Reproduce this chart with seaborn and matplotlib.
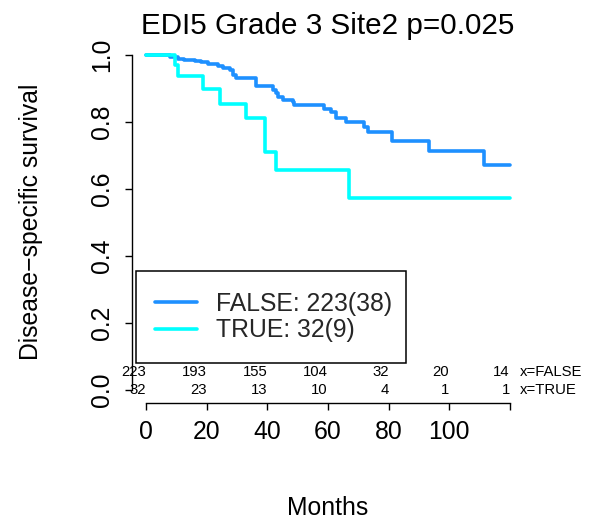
import matplotlib
matplotlib.use("Agg")
import matplotlib.pyplot as plt
from matplotlib.patches import Rectangle
import seaborn as sns
import pandas as pd

# ---- data ----
false_times = [0, 7.7, 10.4, 12.6, 16.0, 18.1, 20.3, 23.6, 25.3, 27.5, 28.6, 29.7,
               36.3, 42.0, 42.9, 43.5, 45.1, 48.4, 48.9, 58.8, 61.0, 62.5, 66.0,
               72.0, 73.1, 81.2, 93.5, 111.4, 120.0]
false_surv = [1.0, 0.993, 0.988, 0.985, 0.982, 0.978, 0.973, 0.968, 0.960, 0.955, 0.940, 0.930,
              0.908, 0.895, 0.885, 0.875, 0.865, 0.860, 0.850, 0.840, 0.830, 0.811, 0.800,
              0.784, 0.771, 0.744, 0.713, 0.671, 0.671]
true_times = [0, 9.5, 10.5, 18.7, 24.2, 33.0, 39.3, 42.9, 66.8, 120.0]
true_surv = [1.0, 0.969, 0.9375, 0.897, 0.854, 0.811, 0.710, 0.655, 0.573, 0.573]

group_labels = ["FALSE: 223(38)", "TRUE: 32(9)"]
group_colors = ["#1E90FF", "#00FFFF"]
risk_times = [0, 20, 40, 60, 80, 100, 120]
risk_false = [223, 193, 155, 104, 32, 20, 14]
risk_true = [32, 23, 13, 10, 4, 1, 1]
risk_row_names = ["x=FALSE", "x=TRUE"]
x_ticks = [0, 20, 40, 60, 80, 100, 120]
x_ticklabels = ["0", "20", "40", "60", "80", "100", ""]
y_ticks = [0.0, 0.2, 0.4, 0.6, 0.8, 1.0]
y_ticklabels = ["0.0", "0.2", "0.4", "0.6", "0.8", "1.0"]
title = "EDI5 Grade 3 Site2 p=0.025"
xlabel = "Months"
ylabel = "Disease\u2212specific survival"

df = pd.concat([
    pd.DataFrame({"time": false_times, "surv": false_surv, "group": group_labels[0]}),
    pd.DataFrame({"time": true_times, "surv": true_surv, "group": group_labels[1]}),
], ignore_index=True)

sns.set_theme(style="ticks")
plt.rcParams["font.family"] = ["Liberation Sans", "DejaVu Sans"]
BASE = 17.8

fig = plt.figure(figsize=(5.91, 5.25), dpi=100)
W, H = 591, 525
L, R, B, T = 131.7, 524.3, 403.0, 41.6
ax = fig.add_axes([L / W, 1 - B / H, (R - L) / W, (B - T) / H])

sns.lineplot(data=df, x="time", y="surv", hue="group", hue_order=group_labels,
             palette=group_colors, drawstyle="steps-post", estimator=None, sort=False,
             lw=2.6, ax=ax, legend=True)

ax.set_xlim(-4.8, 124.8)
ax.set_ylim(-0.04, 1.04)
sns.despine(ax=ax)
ax.spines["left"].set_bounds(0, 1)
ax.spines["bottom"].set_bounds(0, 120)
for s in ("left", "bottom"):
    ax.spines[s].set_linewidth(1.0)
    ax.spines[s].set_color("black")

ax.set_xticks(x_ticks)
ax.set_xticklabels(x_ticklabels)
ax.set_yticks(y_ticks)
ax.set_yticklabels(y_ticklabels, rotation=90, va="center")
ax.tick_params(axis="both", direction="out", length=5, width=1.0, color="black",
               labelsize=BASE, labelcolor="black")
ax.tick_params(axis="x", pad=7)
ax.tick_params(axis="y", pad=8)

ax.set_xlabel(xlabel, fontsize=BASE, color="black")
ax.xaxis.set_label_coords(0.5, -0.256)
ax.set_ylabel(ylabel, fontsize=BASE, color="black")
ax.yaxis.set_label_coords(-0.225, 0.5)

fig.text(328 / W, 1 - 34.3 / H, title, ha="center", va="baseline", fontsize=BASE * 1.2,
         color="black")

# legend
handles, labels = ax.get_legend_handles_labels()
ax.legend(handles, labels, loc="center left", bbox_to_anchor=(0.0593, 0.238),
          frameon=False, fontsize=BASE, handlelength=1.7, handletextpad=0.78,
          labelspacing=0.12, borderpad=0, borderaxespad=0)
for lh in ax.get_legend().get_lines():
    lh.set_linewidth(2.6)
ax.add_patch(Rectangle((0.011, 0.110), 0.688, 0.255, transform=ax.transAxes,
                       fill=False, edgecolor="black", lw=1.1, clip_on=False, zorder=5))

# number at risk
for t, nf, nt in zip(risk_times, risk_false, risk_true):
    ax.text(t, 0.0527, str(nf), ha="right", va="center", fontsize=BASE * 0.6, color="black")
    ax.text(t, -0.002, str(nt), ha="right", va="center", fontsize=BASE * 0.6, color="black")
ax.text(123.2, 0.0527, risk_row_names[0], ha="left", va="center", fontsize=BASE * 0.6,
        color="black", clip_on=False)
ax.text(123.2, -0.002, risk_row_names[1], ha="left", va="center", fontsize=BASE * 0.6,
        color="black", clip_on=False)

fig.savefig("out.png", dpi=100, facecolor="white")
